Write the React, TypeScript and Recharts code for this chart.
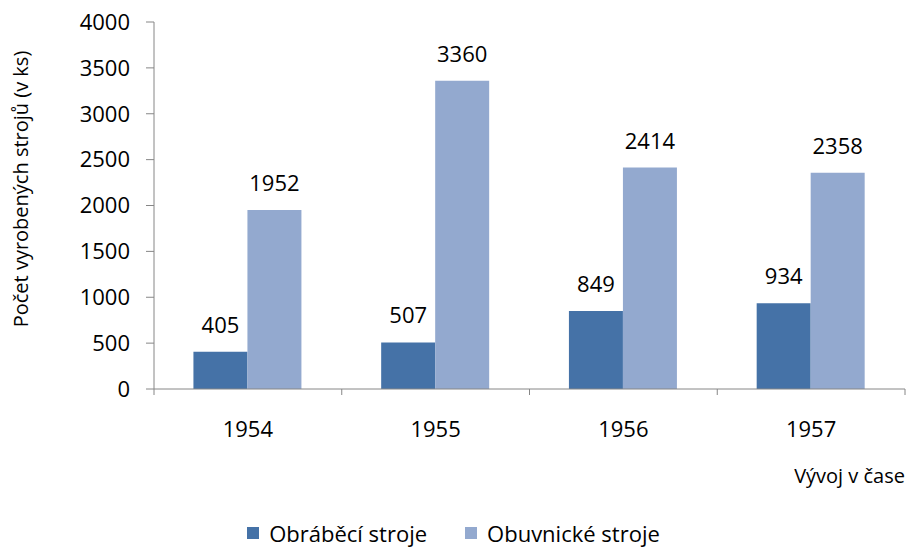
import React from 'react';
import {
  BarChart,
  Bar,
  XAxis,
  YAxis,
  Legend,
  LabelList,
} from 'recharts';

const years = ['1954', '1955', '1956', '1957'];
const obrabeci = [405, 507, 849, 934];
const obuvnicke = [1952, 3360, 2414, 2358];
const yTicks = [0, 500, 1000, 1500, 2000, 2500, 3000, 3500, 4000];

const SERIES = [
  { key: 'obrabeci', label: 'Obráběcí stroje', color: '#4572A7' },
  { key: 'obuvnicke', label: 'Obuvnické stroje', color: '#93A9CF' },
];

const data = years.map((year, i) => ({
  year,
  obrabeci: obrabeci[i],
  obuvnicke: obuvnicke[i],
}));

const FONT = '"Open Sans", sans-serif';
const AXIS = '#868686';
const FS = 22;
const TICK_MARGIN = 32;

const YLabel = () => (
  <text
    x={28}
    y={189}
    transform="rotate(-90, 28, 189)"
    textAnchor="middle"
    fill="#000"
    fontSize={20}
    fontFamily={FONT}
  >
    Počet vyrobených strojů (v ks)
  </text>
);

const XLabel = (props: any) => {
  const vb = props.viewBox || {};
  return (
    <text
      x={vb.x + vb.width}
      y={vb.y + 94}
      textAnchor="end"
      fill="#000"
      fontSize={20}
      fontFamily={FONT}
    >
      Vývoj v čase
    </text>
  );
};

// category tick: label in the middle, tick marks on the band boundaries
const YearTick = (props: any) => {
  const { x, y, payload, index, visibleTicksCount } = props;
  const half = payload?.offset ?? 0;
  const axisY = y - TICK_MARGIN;
  const isLast = index === (visibleTicksCount ?? years.length) - 1;
  return (
    <g>
      <line x1={x - half} x2={x - half} y1={axisY} y2={axisY + 6} stroke={AXIS} />
      {isLast && (
        <line x1={x + half} x2={x + half} y1={axisY} y2={axisY + 6} stroke={AXIS} />
      )}
      <text
        x={x}
        y={y}
        dy="0.71em"
        textAnchor="middle"
        fill="#000"
        fontSize={FS}
        fontFamily={FONT}
      >
        {payload.value}
      </text>
    </g>
  );
};

const LegendContent = () => (
  <div
    style={{
      display: 'flex',
      justifyContent: 'center',
      gap: 38,
      fontFamily: FONT,
      fontSize: FS,
      color: '#000',
      paddingLeft: 2,
    }}
  >
    {SERIES.map((s) => (
      <span key={s.key} style={{ display: 'flex', alignItems: 'center' }}>
        <span
          style={{
            display: 'inline-block',
            width: 12,
            height: 12,
            background: s.color,
            marginRight: 10,
          }}
        />
        {s.label}
      </span>
    ))}
  </div>
);

const App: React.FC = () => {
  return (
    <div style={{ position: 'absolute', left: 0, top: 0 }}>
      <BarChart
        width={909}
        height={548}
        data={data}
        margin={{ top: 22, right: 4, left: 0, bottom: 0 }}
        barCategoryGap="21%"
        barGap={0}
      >
        <XAxis
          dataKey="year"
          height={129}
          axisLine={{ stroke: AXIS }}
          tickLine={false}
          tickSize={0}
          tickMargin={TICK_MARGIN}
          tick={<YearTick />}
          label={<XLabel />}
        />
        <YAxis
          width={154}
          domain={[0, 4000]}
          ticks={yTicks}
          interval={0}
          axisLine={{ stroke: AXIS }}
          tickLine={{ stroke: AXIS }}
          tickSize={8}
          tickMargin={16}
          tick={{ fill: '#000', fontSize: FS, fontFamily: FONT }}
          label={<YLabel />}
        />
        <Legend verticalAlign="bottom" content={<LegendContent />} />
        {SERIES.map((s) => (
          <Bar
            key={s.key}
            dataKey={s.key}
            name={s.label}
            fill={s.color}
            isAnimationActive={false}
          >
            <LabelList
              dataKey={s.key}
              position="top"
              offset={19}
              fill="#000"
              fontSize={FS}
              fontFamily={FONT}
            />
          </Bar>
        ))}
      </BarChart>
    </div>
  );
};

export default App;
